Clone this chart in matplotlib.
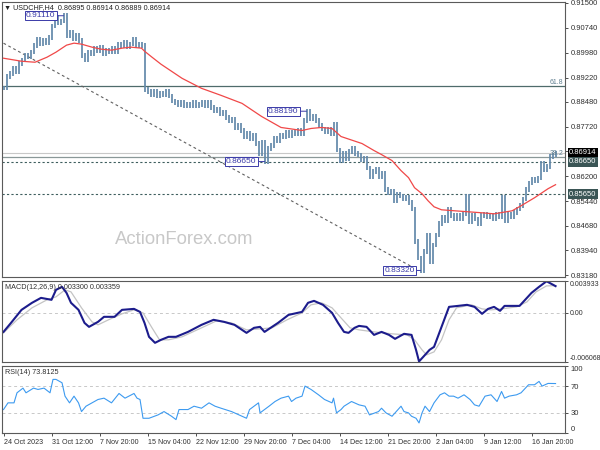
import matplotlib.pyplot as plt
import matplotlib.transforms as mtransforms
import numpy as np

plt.rcParams['font.family'] = ['Liberation Sans', 'DejaVu Sans']

# H4 closes, one value every second bar
closes = [
    0.8890, 0.8925, 0.8935, 0.8950, 0.8940, 0.8965, 0.8975, 0.8990, 0.8985, 0.9000,
    0.9020, 0.9040, 0.9025, 0.9035, 0.9030, 0.9045, 0.9080, 0.9105, 0.9090, 0.9095,
    0.9111, 0.9050, 0.9060, 0.9040, 0.9050, 0.9035, 0.8990, 0.8975, 0.9000, 0.8995,
    0.9010, 0.9005, 0.9015, 0.8995, 0.9005, 0.9000, 0.9010, 0.9000, 0.9025, 0.9020,
    0.9030, 0.9015, 0.9025, 0.9040, 0.9020, 0.9025, 0.9020, 0.8885, 0.8880, 0.8870,
    0.8880, 0.8865, 0.8875, 0.8870, 0.8880, 0.8865, 0.8850, 0.8845, 0.8840, 0.8845,
    0.8835, 0.8840, 0.8835, 0.8845, 0.8835, 0.8840, 0.8845, 0.8835, 0.8845, 0.8830,
    0.8820, 0.8825, 0.8810, 0.8815, 0.8800, 0.8790, 0.8795, 0.8770, 0.8775, 0.8760,
    0.8740, 0.8750, 0.8735, 0.8745, 0.8720, 0.8690, 0.8725, 0.8665, 0.8705, 0.8715,
    0.8735, 0.8730, 0.8745, 0.8740, 0.8755, 0.8745, 0.8755, 0.8750, 0.8760, 0.8750,
    0.8790, 0.8819, 0.8795, 0.8805, 0.8790, 0.8775, 0.8765, 0.8755, 0.8765, 0.8750,
    0.8780, 0.8700, 0.8668, 0.8690, 0.8675, 0.8695, 0.8705, 0.8690, 0.8685, 0.8670,
    0.8675, 0.8645, 0.8620, 0.8635, 0.8640, 0.8620, 0.8630, 0.8580, 0.8570, 0.8575,
    0.8545, 0.8565, 0.8560, 0.8550, 0.8555, 0.8540, 0.8520, 0.8420, 0.8370, 0.8332,
    0.8390, 0.8440, 0.8360, 0.8410, 0.8440, 0.8475, 0.8495, 0.8485, 0.8520, 0.8500,
    0.8490, 0.8500, 0.8490, 0.8505, 0.8560, 0.8480, 0.8500, 0.8490, 0.8475, 0.8500,
    0.8505, 0.8495, 0.8500, 0.8490, 0.8505, 0.8495, 0.8555, 0.8485, 0.8505, 0.8495,
    0.8510, 0.8520, 0.8530, 0.8550, 0.8580, 0.8600, 0.8610, 0.8605, 0.8615, 0.8660,
    0.8640, 0.8650, 0.8680, 0.8685, 0.86914]

ma_bars = [0, 12, 21, 29, 35, 42, 47, 52, 59, 65, 72, 79, 85, 92, 94, 99, 105, 119,
           132, 145, 159, 172, 185, 199, 205, 212, 219, 225, 239, 247, 252, 259, 265,
           270, 274, 279, 283, 287, 292, 301, 319, 327, 339, 345, 354, 363, 368]
ma_vals = [0.89811, 0.89719, 0.89688, 0.89842, 0.89996, 0.90210, 0.90272, 0.90241,
           0.90149, 0.90088, 0.90057, 0.90118, 0.90149, 0.90118, 0.90026, 0.89842,
           0.89627, 0.89197, 0.88890, 0.88675, 0.88430, 0.88031, 0.87693, 0.87601,
           0.87662, 0.87693, 0.87662, 0.87416, 0.87201, 0.86987, 0.86864, 0.86680,
           0.86373, 0.86158, 0.85851, 0.85666, 0.85452, 0.85267, 0.85175, 0.85144,
           0.85083, 0.85052, 0.85144, 0.85298, 0.85544, 0.85820, 0.85943]

macd_bars = [0, 5, 12, 19, 25, 32, 35, 39, 42, 45, 50, 54, 57, 63, 67, 74, 79, 87, 91,
             94, 97, 101, 105, 110, 115, 123, 132, 140, 147, 154, 162, 167, 171, 174,
             183, 190, 199, 203, 207, 213, 219, 223, 227, 230, 234, 237, 242, 247, 252,
             257, 261, 267, 272, 275, 277, 281, 284, 287, 292, 297, 303, 309, 314, 319,
             323, 327, 331, 334, 344, 352, 357, 362, 368]
macd_vals = [-0.00235, -0.00124, 0.00037, 0.00124, 0.00185, 0.00161, 0.00284, 0.00321,
             0.00247, 0.00124, 0.00037, -0.00124, -0.00173, -0.00111, -0.00049, -0.00049,
             0.00037, 0.00049, 0.00012, -0.00124, -0.00296, -0.00370, -0.00333, -0.00296,
             -0.00296, -0.00235, -0.00148, -0.00086, -0.00111, -0.00148, -0.00247,
             -0.00185, -0.00173, -0.00235, -0.00124, -0.00025, 0.00012, 0.00124, 0.00148,
             0.00099, 0.0, -0.00124, -0.00235, -0.00247, -0.00185, -0.00161, -0.00173,
             -0.00272, -0.00235, -0.00272, -0.00321, -0.00259, -0.00272, -0.00457,
             -0.00600, -0.00519, -0.00457, -0.00420, -0.00173, 0.00074, 0.00086, 0.00099,
             0.00074, -0.00012, 0.00049, 0.00074, 0.00025, 0.00086, 0.00086, 0.00247,
             0.00321, 0.00390, 0.00330]

signal_bars = [0, 9, 19, 29, 35, 41, 45, 52, 59, 63, 70, 79, 87, 93, 99, 104, 110, 119,
               132, 142, 152, 162, 171, 179, 189, 199, 205, 212, 219, 225, 231, 237, 247,
               259, 269, 274, 279, 282, 287, 292, 297, 302, 312, 319, 325, 332, 342, 349,
               355, 362, 368]
signal_vals = [-0.00247, -0.00086, 0.00062, 0.00161, 0.00198, 0.00284, 0.00259, 0.00062,
               -0.00111, -0.00148, -0.00086, -0.00012, 0.00037, 0.0, -0.00185, -0.00333,
               -0.00333, -0.00296, -0.00185, -0.00099, -0.00124, -0.00210, -0.00198,
               -0.00185, -0.00086, 0.0, 0.00099, 0.00124, 0.00062, -0.00062, -0.00185,
               -0.00210, -0.00235, -0.00259, -0.00272, -0.00333, -0.00457, -0.00519,
               -0.00482, -0.00333, -0.00086, 0.00062, 0.00099, 0.00049, 0.00037, 0.00049,
               0.00074, 0.00136, 0.00259, 0.00333, 0.003359]

rsi_bars = [0, 3, 7, 9, 13, 15, 20, 23, 27, 31, 33, 35, 39, 41, 44, 47, 50, 52, 55, 59,
            63, 67, 72, 77, 81, 87, 89, 91, 93, 97, 103, 107, 112, 115, 117, 123, 127,
            132, 137, 141, 145, 152, 157, 162, 164, 170, 171, 177, 181, 185, 190, 192,
            195, 199, 201, 205, 210, 214, 219, 220, 222, 225, 227, 232, 237, 241, 244,
            250, 252, 255, 259, 263, 265, 267, 270, 272, 275, 277, 279, 281, 284, 287,
            291, 294, 297, 300, 303, 307, 311, 314, 317, 321, 325, 329, 332, 334, 337,
            342, 345, 350, 354, 357, 359, 363, 368]
rsi_vals = [35, 45, 45, 60, 67, 60, 67, 65, 67, 60, 80, 80, 75, 55, 45, 55, 45, 32, 40,
            45, 50, 52, 45, 59, 52, 59, 52, 50, 22, 22, 27, 32, 25, 20, 35, 35, 40, 37,
            45, 40, 37, 32, 27, 22, 35, 45, 30, 40, 47, 52, 55, 47, 52, 55, 70, 65, 57,
            50, 45, 52, 30, 35, 40, 47, 42, 40, 27, 32, 37, 30, 25, 35, 40, 32, 30, 25,
            22, 15, 30, 40, 32, 45, 57, 60, 55, 55, 52, 57, 50, 42, 40, 55, 57, 47, 62,
            52, 55, 57, 60, 72, 72, 77, 70, 74, 73.8125]

date_labels = ['24 Oct 2023', '31 Oct 12:00', '7 Nov 20:00', '15 Nov 04:00',
               '22 Nov 12:00', '29 Nov 20:00', '7 Dec 04:00', '14 Dec 12:00',
               '21 Dec 20:00', '2 Jan 04:00', '9 Jan 12:00', '16 Jan 20:00']

price_ticks = [0.91500, 0.90740, 0.89980, 0.89220, 0.88480, 0.87720, 0.86960,
               0.86200, 0.85440, 0.84680, 0.83940, 0.83180]
last_price = 0.86914
fib_levels = {'61.8': 0.8895, '38.2': 0.8680}
support_levels = [0.8665, 0.8565]
trend_start = (0, 0.9027)
trend_end = (275, 0.83364)

bar_col = '#6389aa'
edge = '#5a5a5a'
fs = 5.5

fig = plt.figure(figsize=(6, 4.5), dpi=100)
ax = fig.add_axes([2/600, 1-277/450, 563/600, 275/450])
ax_m = fig.add_axes([2/600, 1-362/450, 563/600, 81/450])
ax_r = fig.add_axes([2/600, 1-433/450, 563/600, 67/450])

for a in (ax, ax_m, ax_r):
    a.set_xlim(-1, 374.3)
    a.yaxis.tick_right()
    a.tick_params(axis='y', direction='out', length=2.5, width=0.6, pad=1.5,
                  labelsize=fs, colors='#303030')
    for s in a.spines.values():
        s.set_color(edge)
        s.set_linewidth(0.8)
    a.set_facecolor('white')

# ---- price panel ----
x = np.arange(len(closes)) * 2
c = np.array(closes)
prev = np.concatenate([[c[0]], c[:-1]])
ax.vlines(x, np.minimum(prev, c) - 0.0007, np.maximum(prev, c) + 0.0007,
          color=bar_col, lw=1.25, zorder=3)
ax.plot(ma_bars, ma_vals, color='#f04848', lw=0.9, zorder=4)

ax.axhline(fib_levels['61.8'], color='#4f6b6b', lw=0.9, zorder=2)
ax.axhline(fib_levels['38.2'], color='#8a9898', lw=0.9, zorder=2)
ax.axhline(last_price, color='#c8c8c8', lw=0.8, zorder=2)
for lv in support_levels:
    ax.axhline(lv, color='#3e5e5e', lw=0.8, ls=(0, (2, 2)), zorder=2)
ax.plot([trend_start[0], trend_end[0]], [trend_start[1], trend_end[1]],
        color='#606060', lw=0.8, ls=(0, (2.5, 2.5)), zorder=2)

blend = mtransforms.blended_transform_factory(ax.transAxes, ax.transData)
for name, lv in fib_levels.items():
    ax.text(0.997, lv, name, transform=blend, ha='right', va='bottom',
            fontsize=5, color='#5f7f90')

ax.set_ylim(0.8312, 0.9153)
ax.set_yticks(price_ticks)
ax.set_yticklabels(['%.5f' % t for t in price_ticks])
ax.set_xticks([])

for txt, lv, fc in [('%.5f' % last_price, last_price, '#000000'),
                    ('0.86650', 0.8665, '#3a5555'),
                    ('0.85650', 0.8565, '#3a5555')]:
    ax.text(1.0075, lv, txt, transform=blend, ha='left', va='center', fontsize=fs,
            color='white', clip_on=False,
            bbox=dict(boxstyle='square,pad=0.2', fc=fc, ec='none'))

for lv, off in [(max(closes), 8), (0.8819, 8), (0.8665, 8), (min(closes), 6)]:
    xi = x[closes.index(lv)]
    ax.annotate('%.5f' % lv, xy=(xi, lv), xytext=(-off * 0.72, 0),
                textcoords='offset points', ha='right', va='center', fontsize=fs + 0.5,
                color='#3a3aa8',
                bbox=dict(boxstyle='square,pad=0.12', fc='white', ec='#3a3aa8', lw=0.7),
                arrowprops=dict(arrowstyle='-', color='#3a3aa8', lw=0.7,
                                shrinkA=0, shrinkB=0), zorder=6)

ax.text(0.004, 0.993, '\u25bc USDCHF,H4  0.86895 0.86914 0.86889 0.86914',
        transform=ax.transAxes, ha='left', va='top', fontsize=5.2, color='#202020')
ax.text(0.323, 0.135, 'ActionForex.com', transform=ax.transAxes, ha='center',
        va='center', fontsize=13.3, color='#c8c8c8', zorder=1)

# ---- MACD panel ----
ax_m.axhline(0, color='#c8c8c8', lw=0.7, ls=(0, (3, 3)))
ax_m.plot(signal_bars, signal_vals, color='#c4c4c4', lw=0.9)
ax_m.plot(macd_bars, macd_vals, color='#1c1c8c', lw=1.5)
ax_m.set_ylim(-0.006068, 0.003933)
ax_m.set_yticks([0.003933, 0.0, -0.006068])
ax_m.set_yticklabels(['0.003933', '0.00', '-0.006068'])
ax_m.tick_params(axis='y', labelsize=5.0, pad=1.0)
lbls = ax_m.get_yticklabels()
lbls[0].set_va('top')
lbls[2].set_va('bottom')
ax_m.set_xticks([])
ax_m.text(0.005, 0.96, 'MACD(12,26,9) 0.003300 0.003359', transform=ax_m.transAxes,
          ha='left', va='top', fontsize=5.2, color='#303030')

# ---- RSI panel ----
for lv in (30, 70):
    ax_r.axhline(lv, color='#c8c8c8', lw=0.7, ls=(0, (3, 3)))
ax_r.plot(rsi_bars, rsi_vals, color='#3c9af0', lw=0.8)
ax_r.set_ylim(0, 100)
ax_r.set_yticks([100, 70, 30, 0])
ax_r.set_yticklabels(['100', '70', '30', '0'])
rl = ax_r.get_yticklabels()
rl[0].set_va('top')
rl[3].set_va('bottom')
ax_r.text(0.005, 0.95, 'RSI(14) 73.8125', transform=ax_r.transAxes, ha='left',
          va='top', fontsize=5.2, color='#303030')

ax_r.set_xticks(np.arange(len(date_labels)) * 32)
ax_r.set_xticklabels(date_labels, ha='left')
ax_r.tick_params(axis='x', direction='out', length=2.5, width=0.6, pad=1.5,
                 labelsize=5.1, colors='#303030')

fig.savefig('out.png', dpi=100, facecolor='white')
